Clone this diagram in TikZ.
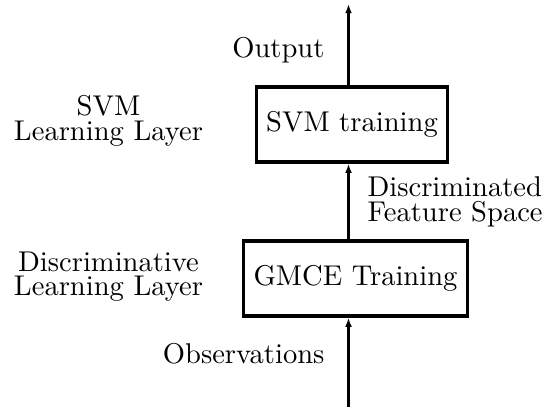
\documentclass[tikz,border=0pt]{standalone}
\usetikzlibrary{arrows.meta}
\begin{document}
\begin{tikzpicture}[x=0.35pt,y=-0.35pt,
  stage/.style={draw,line width=1.2pt,rectangle,inner sep=0pt,minimum height=26.25pt},
  label/.style={inner sep=0pt},
  flow/.style={line width=1pt,-{Latex[length=3.2pt,width=2.4pt]}}]
\useasboundingbox (0,0) rectangle (545,407);
% processing stages
\node[stage,minimum width=66.85pt] (svm) at (352,124.5) {SVM training};
\node[stage,minimum width=78.4pt] (gmce) at (355.5,278.5) {GMCE Training};
% free ends of the signal path
\coordinate (in) at (348.5,407);
\coordinate (out) at (348.5,4);
% signal path
\draw[flow] (in) -- (in |- gmce.south);
\draw[flow] (in |- gmce.north) -- (in |- svm.south);
\draw[flow] (in |- svm.north) -- (out);
% path labels
\node[label,anchor=base east] (outlbl) at (325,57) {Output};
\node[label,anchor=base east] (obslbl) at (325,363) {Observations};
\node[label,anchor=base west] (feat1) at (367,196) {Discriminated};
\node[label,anchor=base west] (feat2) at (367,221) {Feature Space};
% layer labels
\node[label,anchor=base] (svml1) at (108.5,115) {SVM};
\node[label,anchor=base] (svml2) at (108.5,140) {Learning Layer};
\node[label,anchor=base] (dlay1) at (108.5,271) {Discriminative};
\node[label,anchor=base] (dlay2) at (108.5,295.5) {Learning Layer};
\end{tikzpicture}
\end{document}
